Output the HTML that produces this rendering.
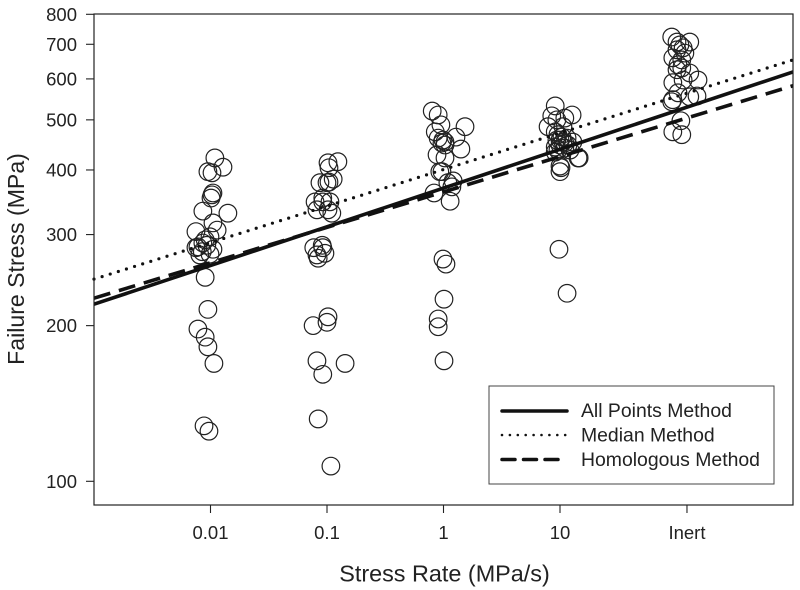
<!DOCTYPE html>
<html>
<head>
<meta charset="utf-8">
<title>Failure Stress vs Stress Rate</title>
<style>
html,body{margin:0;padding:0;background:#fff;}
svg{display:block;font-family:"Liberation Sans",sans-serif;fill:#222;}
</style>
</head>
<body>
<svg id="chart" width="800" height="590" viewBox="0 0 800 590">
  <rect x="0" y="0" width="800" height="590" fill="#fff"/>
  <g id="marks"></g>
  <g id="fits"></g>
  <rect x="94" y="14" width="699" height="491" fill="none" stroke="#222" stroke-width="1.2"/>
  <g id="axes"></g>
  <text x="444.5" y="581.5" font-size="23.4" text-anchor="middle">Stress Rate (MPa/s)</text>
  <text transform="translate(24,259) rotate(-90)" font-size="23.1" text-anchor="middle">Failure Stress (MPa)</text>
  <g>
    <rect x="489" y="386" width="285" height="98" fill="#fff" stroke="#444" stroke-width="1"/>
    <line x1="502" y1="411" x2="567" y2="411" stroke="#111" stroke-width="3.5" stroke-linecap="round"/>
    <text x="581" y="417" font-size="19.4">All Points Method</text>
    <line x1="502" y1="435" x2="566" y2="435" stroke="#111" stroke-width="2.6" stroke-linecap="round" stroke-dasharray="0 7.9"/>
    <text x="581" y="441.5" font-size="19.4">Median Method</text>
    <line x1="502" y1="459.5" x2="559" y2="459.5" stroke="#111" stroke-width="3.5" stroke-linecap="round" stroke-dasharray="13 8.5"/>
    <text x="581" y="466" font-size="19.4">Homologous Method</text>
  </g>
</svg>
<script>
var rateMin = 0.001;
var rateMax = 1000;
var stressMin = 100;
var stressRefHigh = 800;

var xTickLabels = ["0.01", "0.1", "1", "10", "Inert"];
var xTickValues = [0.01, 0.1, 1, 10, 123];
var yTickValues = [100, 200, 300, 400, 500, 600, 700, 800];

var fitRates = [0.001, 1000];
var allPointsFit = [220, 619];
var medianFit = [246, 653];
var homologousFit = [226, 582];

var rates001 = [0.0109,0.0128,0.0095,0.0103,0.0105,0.0103,0.0101,0.0086,0.0141,0.0105,0.0114,0.0075,0.0099,0.0086,0.0075,0.0085,0.0105,0.0099,0.0078,0.0090,0.0093,0.0081,0.0090,0.0095,0.0078,0.0090,0.0095,0.0107,0.0088,0.0097];
var stress001 = [422,405,397,395,361,358,353,333,330,316,306,304,297,289,283,278,281,275,284,293,286,274,248,215,197,190,182,169,128,125];

var rates01 = [0.124,0.102,0.104,0.113,0.087,0.100,0.104,0.079,0.106,0.092,0.092,0.082,0.102,0.110,0.091,0.092,0.077,0.096,0.082,0.084,0.102,0.100,0.076,0.082,0.143,0.092,0.084,0.108];
var stress01 = [415,413,404,384,378,378,379,347,347,347,353,335,335,330,286,283,283,276,274,270,208,203,200,171,169,161,132,107];

var rates1 = [0.80,0.90,0.95,1.53,0.85,1.28,0.90,0.99,1.03,0.97,1.41,1.03,0.88,1.03,0.93,0.97,1.21,1.09,1.18,0.83,1.14,0.99,1.05,1.01,0.90,0.90,1.01];
var stress1 = [520,511,489,485,474,463,461,457,453,451,439,447,428,422,397,397,381,378,371,361,348,269,263,225,206,199,171];

var rates10 = [9.1,8.5,12.7,11.0,9.4,7.9,9.1,10.6,12.9,9.6,10.4,11.5,9.4,10.6,10.0,11.7,9.1,11.0,9.6,14.3,14.6,10.0,10.2,10.0,9.8,11.5,10.0,11.0,9.1,12.2];
var stress10 = [532,509,511,504,500,485,474,485,453,468,463,461,457,453,447,447,443,441,437,422,422,407,404,397,281,231,457,451,433,437];

var ratesInert = [91,130,101,107,114,101,118,93,111,103,111,101,130,93,114,153,103,91,150,93,130,109,93,111];
var stressInert = [723,707,707,698,689,683,673,659,653,639,630,625,616,590,597,597,564,542,556,547,554,498,474,468];

var plotLeft = 94, plotRight = 793, yAt100 = 481.3, yAt800 = 14.3;
var NS = "http://www.w3.org/2000/svg";

function xScale(rate) {
  return plotLeft + (Math.log10(rate) - Math.log10(rateMin)) / (Math.log10(rateMax) - Math.log10(rateMin)) * (plotRight - plotLeft);
}
function yScale(stress) {
  return yAt100 + (Math.log10(stress) - Math.log10(stressMin)) / (Math.log10(stressRefHigh) - Math.log10(stressMin)) * (yAt800 - yAt100);
}
function make(tag, attrs, parent) {
  var el = document.createElementNS(NS, tag);
  for (var k in attrs) { el.setAttribute(k, attrs[k]); }
  parent.appendChild(el);
  return el;
}

var marks = document.getElementById("marks");
var fits = document.getElementById("fits");
var axes = document.getElementById("axes");

function drawPoints(rates, stresses, name) {
  for (var i = 0; i < rates.length; i++) {
    var c = make("circle", {cx: xScale(rates[i]), cy: yScale(stresses[i]), r: 8.8, fill: "none", stroke: "#222", "stroke-width": 1.2}, marks);
    
    
  }
}
drawPoints(rates001, stress001, 'point-rate-0-01');
drawPoints(rates01, stress01, 'point-rate-0-1');
drawPoints(rates1, stress1, 'point-rate-1');
drawPoints(rates10, stress10, 'point-rate-10');
drawPoints(ratesInert, stressInert, 'point-inert');

function drawFit(values, width, dash, cap, name) {
  var attrs = {x1: xScale(fitRates[0]), y1: yScale(values[0]), x2: xScale(fitRates[1]), y2: yScale(values[1]), stroke: "#111", "stroke-width": width, "stroke-linecap": cap};
  if (dash) { attrs["stroke-dasharray"] = dash; }
  var l = make("line", attrs, fits);
  
  
}
drawFit(allPointsFit, 3.6, null, "butt", 'all-points-fit-line');
drawFit(medianFit, 3.2, "0 8.5", "round", 'median-fit-line');
drawFit(homologousFit, 3.6, "17 9", "butt", 'homologous-fit-line');

xTickValues.forEach(function (v, i) {
  var x = xScale(v);
  var t = make("line", {x1: x, y1: 505, x2: x, y2: 513, stroke: "#222", "stroke-width": 1.1}, axes);
  
  
  var lab = make("text", {x: x, y: 539, "font-size": 18.5, "text-anchor": "middle"}, axes);
  lab.textContent = xTickLabels[i];
  
  
});
yTickValues.forEach(function (v) {
  var y = yScale(v);
  var t = make("line", {x1: 86, y1: y, x2: 94, y2: y, stroke: "#222", "stroke-width": 1.1}, axes);
  
  
  var lab = make("text", {x: 77, y: y + 6.5, "font-size": 18.5, "text-anchor": "end"}, axes);
  lab.textContent = String(v);
  
  
});
</script>
</body>
</html>
